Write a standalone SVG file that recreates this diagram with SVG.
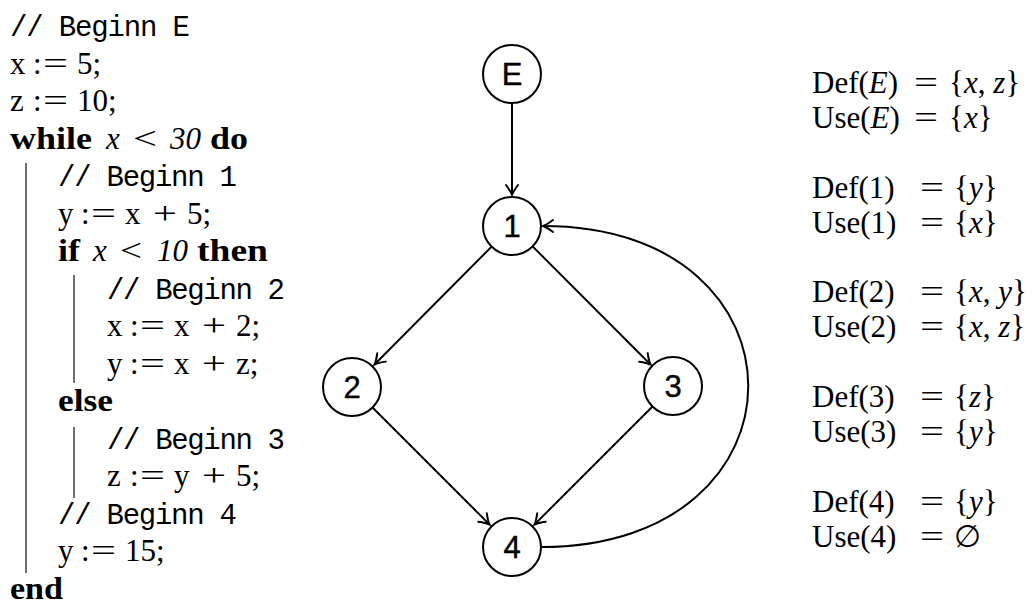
<svg xmlns="http://www.w3.org/2000/svg" width="1033" height="605" viewBox="0 0 1033 605">
<style>
.c{font-family:"Liberation Serif","DejaVu Serif",serif;font-size:31px;fill:#000}
.m{font-family:"Liberation Mono","DejaVu Sans Mono",monospace;font-size:29px;fill:#000}
.b{font-weight:bold}
.i{font-style:italic}
.bar{stroke:#222;stroke-width:1.3;fill:none}
.node circle{fill:#fff;stroke:#000;stroke-width:2}
.node text{font-family:"Liberation Sans",Arial,sans-serif;font-size:31px;text-anchor:middle;fill:#000;stroke:#000;stroke-width:0.4}
.edge{fill:none;stroke:#000;stroke-width:2;marker-end:url(#arr)}
</style>
<defs>
<marker id="arr" viewBox="-12 -8 14 16" markerWidth="14" markerHeight="16" refX="0" refY="0" orient="auto" markerUnits="userSpaceOnUse">
<path d="M-10,-6 Q-4,-1.5 0,0 Q-4,1.5 -10,6" fill="none" stroke="#000" stroke-width="2" stroke-linecap="round"/>
</marker>
</defs>
<rect width="1033" height="605" fill="#fff"/>

<g id="code">
<text class="m" x="10" y="36" textLength="180">// Beginn E</text>
<text class="c" y="73.5"><tspan x="10">x</tspan><tspan x="33">:</tspan><tspan x="43" textLength="25" lengthAdjust="spacingAndGlyphs">=</tspan><tspan x="77">5;</tspan></text>
<text class="c" y="111"><tspan x="10">z</tspan><tspan x="33">:</tspan><tspan x="43" textLength="25" lengthAdjust="spacingAndGlyphs">=</tspan><tspan x="77">10;</tspan></text>
<text class="c" y="148.6"><tspan x="10" class="b" textLength="82" lengthAdjust="spacingAndGlyphs">while</tspan><tspan x="106" class="i">x</tspan><tspan x="133" textLength="24" lengthAdjust="spacingAndGlyphs">&lt;</tspan><tspan x="170" class="i">30</tspan><tspan x="210" class="b" textLength="38" lengthAdjust="spacingAndGlyphs">do</tspan></text>
<line class="bar" x1="26" y1="163" x2="26" y2="573"/>
<text class="m" x="58" y="186.1" textLength="179">// Beginn 1</text>
<text class="c" y="223.7"><tspan x="58">y</tspan><tspan x="81">:</tspan><tspan x="91" textLength="25" lengthAdjust="spacingAndGlyphs">=</tspan><tspan x="125">x</tspan><tspan x="153" textLength="24" lengthAdjust="spacingAndGlyphs">+</tspan><tspan x="187">5;</tspan></text>
<text class="c" y="261.2"><tspan x="58" class="b" textLength="22" lengthAdjust="spacingAndGlyphs">if</tspan><tspan x="93" class="i">x</tspan><tspan x="120" textLength="22" lengthAdjust="spacingAndGlyphs">&lt;</tspan><tspan x="157" class="i">10</tspan><tspan x="197" class="b" textLength="71" lengthAdjust="spacingAndGlyphs">then</tspan></text>
<line class="bar" x1="74" y1="275" x2="74" y2="383"/>
<text class="m" x="107" y="298.7" textLength="178">// Beginn 2</text>
<text class="c" y="336.2"><tspan x="107">x</tspan><tspan x="130">:</tspan><tspan x="140" textLength="25" lengthAdjust="spacingAndGlyphs">=</tspan><tspan x="174">x</tspan><tspan x="202" textLength="24" lengthAdjust="spacingAndGlyphs">+</tspan><tspan x="236">2;</tspan></text>
<text class="c" y="373.8"><tspan x="107">y</tspan><tspan x="130">:</tspan><tspan x="140" textLength="25" lengthAdjust="spacingAndGlyphs">=</tspan><tspan x="174">x</tspan><tspan x="202" textLength="24" lengthAdjust="spacingAndGlyphs">+</tspan><tspan x="236">z;</tspan></text>
<text class="c b" x="58" y="411.3" textLength="55" lengthAdjust="spacingAndGlyphs">else</text>
<line class="bar" x1="74" y1="427" x2="74" y2="498"/>
<text class="m" x="107" y="448.8" textLength="178">// Beginn 3</text>
<text class="c" y="486.4"><tspan x="107">z</tspan><tspan x="130">:</tspan><tspan x="140" textLength="25" lengthAdjust="spacingAndGlyphs">=</tspan><tspan x="174">y</tspan><tspan x="202" textLength="24" lengthAdjust="spacingAndGlyphs">+</tspan><tspan x="236">5;</tspan></text>
<text class="m" x="58" y="523.9" textLength="179">// Beginn 4</text>
<text class="c" y="561.4"><tspan x="58">y</tspan><tspan x="81">:</tspan><tspan x="91" textLength="25" lengthAdjust="spacingAndGlyphs">=</tspan><tspan x="125">15;</tspan></text>
<text class="c b" x="10" y="599" textLength="53" lengthAdjust="spacingAndGlyphs">end</text>
</g>

<g id="connectors">
<path id="e-E-1" class="edge" d="M512,104 L512,195"/>
<path id="e-1-2" class="edge" d="M491.6,246.6 L374.5,364.5"/>
<path id="e-1-3" class="edge" d="M532.6,246.4 L650.5,364.5"/>
<path id="e-2-4" class="edge" d="M372.5,407.5 L489.6,524.6"/>
<path id="e-3-4" class="edge" d="M652.5,406.5 L534.4,524.6"/>
<path id="e-4-1" class="edge" d="M541,547 C817,547 817,226 543,226"/>
</g>

<g id="node-E" class="node"><circle cx="512" cy="74" r="29"/><text x="512" y="85">E</text></g>
<g id="node-1" class="node"><circle cx="512" cy="226" r="29"/><text x="512" y="237">1</text></g>
<g id="node-2" class="node"><circle cx="352" cy="387" r="29"/><text x="352" y="398">2</text></g>
<g id="node-3" class="node"><circle cx="673" cy="386" r="29"/><text x="673" y="397">3</text></g>
<g id="node-4" class="node"><circle cx="512" cy="547" r="29"/><text x="512" y="558">4</text></g>

<g id="defuse">
<text class="c" y="93"><tspan x="812">Def(</tspan><tspan class="i">E</tspan><tspan>)</tspan><tspan x="914" textLength="24" lengthAdjust="spacingAndGlyphs">=</tspan><tspan x="949">{</tspan><tspan class="i">x</tspan><tspan>, </tspan><tspan class="i">z</tspan><tspan>}</tspan></text>
<text class="c" y="128"><tspan x="812">Use(</tspan><tspan class="i">E</tspan><tspan>)</tspan><tspan x="914" textLength="24" lengthAdjust="spacingAndGlyphs">=</tspan><tspan x="949">{</tspan><tspan class="i">x</tspan><tspan>}</tspan></text>
<text class="c" y="197.7"><tspan x="812">Def(1)</tspan><tspan x="920" textLength="24" lengthAdjust="spacingAndGlyphs">=</tspan><tspan x="954">{</tspan><tspan class="i">y</tspan><tspan>}</tspan></text>
<text class="c" y="232.7"><tspan x="812">Use(1)</tspan><tspan x="920" textLength="24" lengthAdjust="spacingAndGlyphs">=</tspan><tspan x="954">{</tspan><tspan class="i">x</tspan><tspan>}</tspan></text>
<text class="c" y="302.4"><tspan x="812">Def(2)</tspan><tspan x="920" textLength="24" lengthAdjust="spacingAndGlyphs">=</tspan><tspan x="954">{</tspan><tspan class="i">x</tspan><tspan>, </tspan><tspan class="i">y</tspan><tspan>}</tspan></text>
<text class="c" y="337.4"><tspan x="812">Use(2)</tspan><tspan x="920" textLength="24" lengthAdjust="spacingAndGlyphs">=</tspan><tspan x="954">{</tspan><tspan class="i">x</tspan><tspan>, </tspan><tspan class="i">z</tspan><tspan>}</tspan></text>
<text class="c" y="407.1"><tspan x="812">Def(3)</tspan><tspan x="920" textLength="24" lengthAdjust="spacingAndGlyphs">=</tspan><tspan x="954">{</tspan><tspan class="i">z</tspan><tspan>}</tspan></text>
<text class="c" y="442.1"><tspan x="812">Use(3)</tspan><tspan x="920" textLength="24" lengthAdjust="spacingAndGlyphs">=</tspan><tspan x="954">{</tspan><tspan class="i">y</tspan><tspan>}</tspan></text>
<text class="c" y="511.8"><tspan x="812">Def(4)</tspan><tspan x="920" textLength="24" lengthAdjust="spacingAndGlyphs">=</tspan><tspan x="954">{</tspan><tspan class="i">y</tspan><tspan>}</tspan></text>
<text class="c" y="546.8"><tspan x="812">Use(4)</tspan><tspan x="920" textLength="24" lengthAdjust="spacingAndGlyphs">=</tspan><tspan x="954">∅</tspan></text>
</g>
</svg>
